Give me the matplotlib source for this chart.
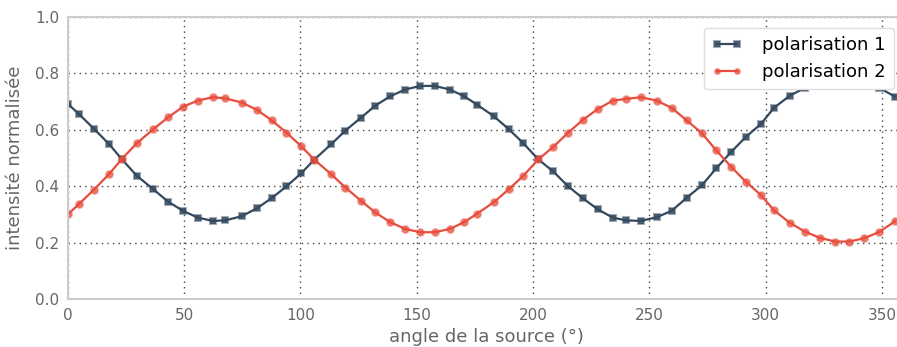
import numpy as np
import matplotlib
matplotlib.use('Agg')
import matplotlib.pyplot as plt
from matplotlib.colors import to_rgba

# angles (deg)
angle = [0.0, 5.0, 11.3, 17.8, 23.2, 29.7, 36.8, 43.2, 49.7, 55.9,
         62.3, 67.8, 74.9, 81.4, 87.7, 94.0, 100.3, 106.0, 113.2, 119.4,
         126.0, 132.2, 138.6, 145.0, 151.5, 157.8, 164.4, 170.5, 176.1, 183.3,
         189.6, 195.9, 202.3, 208.6, 215.1, 221.5, 227.9, 234.3, 240.0, 246.3,
         253.2, 259.7, 266.1, 272.6, 278.8, 285.2, 291.5, 298.1, 303.6, 310.5,
         317.0, 323.4, 329.9, 336.0, 342.5, 348.9, 355.7]

pol1 = [0.693, 0.655, 0.604, 0.550, 0.497, 0.438, 0.390, 0.346, 0.313, 0.290,
        0.278, 0.280, 0.295, 0.323, 0.359, 0.400, 0.446, 0.495, 0.549, 0.598,
        0.643, 0.686, 0.719, 0.743, 0.756, 0.756, 0.743, 0.719, 0.689, 0.648,
        0.603, 0.553, 0.496, 0.454, 0.401, 0.358, 0.319, 0.290, 0.280, 0.278,
        0.291, 0.314, 0.360, 0.404, 0.464, 0.522, 0.575, 0.622, 0.678, 0.722,
        0.749, 0.768, 0.778, 0.778, 0.766, 0.749, 0.718]

pol2 = [0.301, 0.339, 0.389, 0.444, 0.497, 0.553, 0.603, 0.645, 0.683, 0.704,
        0.716, 0.712, 0.697, 0.671, 0.634, 0.591, 0.543, 0.495, 0.444, 0.396,
        0.350, 0.308, 0.274, 0.250, 0.238, 0.238, 0.250, 0.274, 0.304, 0.345,
        0.390, 0.438, 0.496, 0.539, 0.590, 0.636, 0.674, 0.704, 0.710, 0.716,
        0.704, 0.678, 0.634, 0.589, 0.528, 0.470, 0.417, 0.369, 0.316, 0.271,
        0.240, 0.218, 0.205, 0.205, 0.217, 0.239, 0.277]

blue = '#34495e'
red = '#e74c3c'
grey = '#666666'

fig = plt.figure(figsize=(8.97, 3.47), dpi=100)
# the axes run a little past the right edge of the picture, as in the original
ax = fig.add_axes([0.0755, 0.137, 0.9335, 0.814])

ax.plot(angle, pol1, color=blue, lw=1.6, marker='s', ms=5,
        mfc=to_rgba(blue, 0.85), mec=to_rgba(blue, 0.45), mew=1.5,
        label='polarisation 1')
ax.plot(angle, pol2, color=red, lw=1.6, marker='o', ms=5,
        mfc=to_rgba(red, 0.75), mec=to_rgba(red, 0.4), mew=1.5,
        label='polarisation 2')

ax.set_xlim(0, 360)
ax.set_ylim(0, 1.0)
ax.set_xticks(np.arange(0, 351, 50))
ax.set_yticks(np.arange(0, 1.01, 0.2))

ax.grid(True, color='#444444', linestyle=(0, (1, 3)), linewidth=1)
ax.set_axisbelow(True)
for s in ax.spines.values():
    s.set_color('#cccccc')
    s.set_linewidth(1.5)

ax.tick_params(length=0, labelsize=11, labelcolor=grey, pad=6)
ax.set_xlabel('angle de la source (°)', fontsize=13, color=grey, labelpad=4)
ax.set_ylabel('intensité normalisée', fontsize=13, color=grey, labelpad=8)

leg = ax.legend(loc='upper right', fontsize=13, frameon=True, fancybox=True,
                framealpha=1.0, borderaxespad=0.6, numpoints=2, markerscale=0.75,
                handlelength=1.7, handletextpad=1.1, borderpad=0.45)
leg.get_frame().set_edgecolor('#dddddd')

fig.savefig('out.png', dpi=100)
